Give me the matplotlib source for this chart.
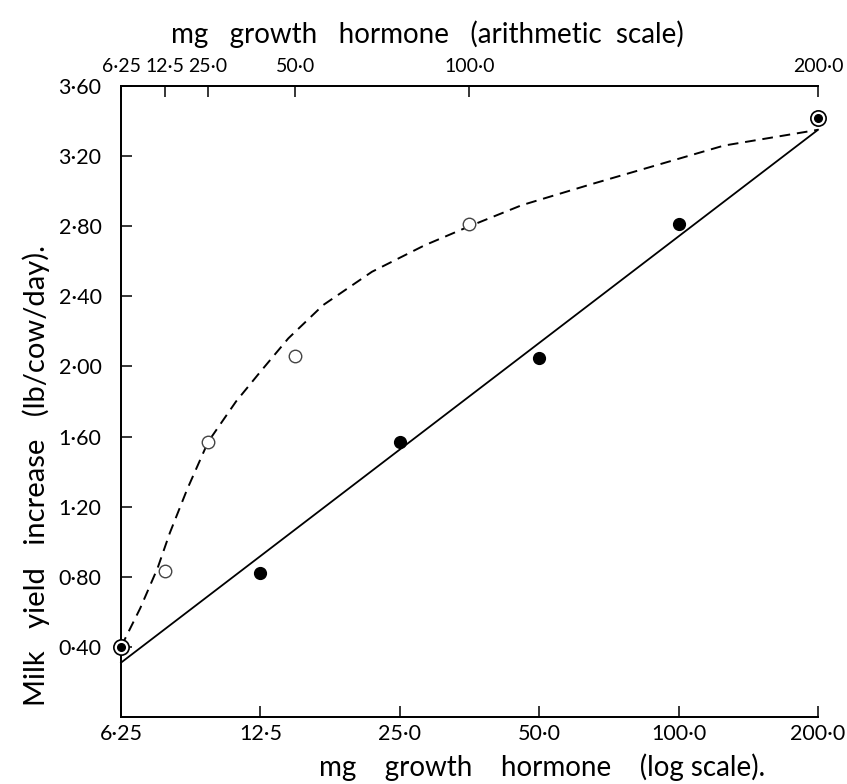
import numpy as np
import matplotlib
matplotlib.use("Agg")
import matplotlib.pyplot as plt

plt.rcParams['font.family'] = ['Lato', 'DejaVu Sans']

# doses (mg growth hormone) and milk yield increase (lb/cow/day)
dose = [6.25, 12.5, 25.0, 50.0, 100.0, 200.0]
yield_log = [0.40, 0.82, 1.57, 2.05, 2.81, 3.42]    # filled, log scale
yield_arith = [0.40, 0.83, 1.57, 2.06, 2.81, 3.42]  # open, arithmetic scale

# fitted straight line on the log scale
fit_dose = [6.25, 200.0]
fit_yield = [0.31, 3.35]

# hand-drawn curve on the arithmetic scale
curve_dose = [6.25, 9.0, 11.5, 14.0, 19.0, 25.0, 33.0, 40.0, 48.0, 58.0,
              72.0, 87.0, 100.0, 115.0, 135.0, 154.0, 173.0, 200.0]
curve_yield = [0.40, 0.62, 0.85, 1.05, 1.30, 1.57, 1.80, 1.97, 2.16, 2.35,
               2.54, 2.69, 2.80, 2.92, 3.04, 3.15, 3.26, 3.35]

dose_labels = ["6·25", "12·5", "25·0", "50·0", "100·0", "200·0"]
y_ticks = [0.4, 0.8, 1.2, 1.6, 2.0, 2.4, 2.8, 3.2, 3.6]
y_labels = ["0·40", "0·80", "1·20", "1·60", "2·00", "2·40", "2·80", "3·20", "3·60"]


# the arithmetic axis puts 6.25 at the corner, 12.5 onwards is linear
def fwd(x):
    x = np.asarray(x, dtype=float)
    return np.where(x < 12.5, 2 * (x - 6.25), x)


def inv(p):
    p = np.asarray(p, dtype=float)
    return np.where(p < 12.5, p / 2 + 6.25, p)


fig = plt.figure(figsize=(8.47, 7.84), dpi=100)
ax = fig.add_axes([0.1429, 0.0855, 0.8228, 0.8048])

ax.set_xscale('log', base=2)
ax.set_xlim(6.25, 200)
ax.set_ylim(0, 3.6)

ax.plot(fit_dose, fit_yield, color='black', lw=1.3, clip_on=False)
ax.plot(dose[1:-1], yield_log[1:-1], 'o', color='black', ms=8.5, clip_on=False)

ax.set_xticks(dose)
ax.set_xticklabels(dose_labels)
ax.xaxis.set_minor_locator(matplotlib.ticker.NullLocator())
ax.set_yticks(y_ticks)
ax.set_yticklabels(y_labels)
ax.tick_params(direction='in', length=8, width=1.1, labelsize=15.5, pad=5)
ax.tick_params(axis='y', pad=14)

ax2 = ax.twiny()
ax2.set_xscale('function', functions=(fwd, inv))
ax2.set_xlim(6.25, 200)
ax2.plot(curve_dose, curve_yield, color='black', lw=1.4, dashes=(5.5, 3.5),
         clip_on=False)
ax2.plot(dose[1:-1], yield_arith[1:-1], 'o', mfc='white', mec='#444444',
         mew=1.0, ms=9, clip_on=False)
# end points are shared by both series: ring with a dot inside
ax2.plot([dose[0], dose[-1]], [yield_arith[0], yield_arith[-1]], 'o',
         mfc='white', mec='black', mew=1.2, ms=11, clip_on=False, zorder=4)
ax2.plot([dose[0], dose[-1]], [yield_log[0], yield_log[-1]], 'o',
         color='black', ms=5.5, clip_on=False, zorder=5)
ax2.set_xticks(dose)
ax2.set_xticklabels(dose_labels)
ax2.xaxis.set_minor_locator(matplotlib.ticker.NullLocator())
ax2.tick_params(direction='in', length=8, width=1.1, labelsize=14, pad=8)

for a in (ax, ax2):
    a.spines['right'].set_visible(False)
    for s in ('left', 'bottom', 'top'):
        a.spines[s].set_linewidth(1.3)

ax.set_xlabel("mg    growth    hormone    (log scale).", fontsize=20)
ax.xaxis.set_label_coords(0.604, -0.058)
ax2.set_xlabel("mg   growth   hormone   (arithmetic  scale)", fontsize=20)
ax2.xaxis.set_label_coords(0.439, 1.068)
ax.set_ylabel("Milk   yield   increase   (lb/cow/day).", fontsize=21)
ax.yaxis.set_label_coords(-0.102, 0.383)

fig.savefig("out.png", dpi=100)
